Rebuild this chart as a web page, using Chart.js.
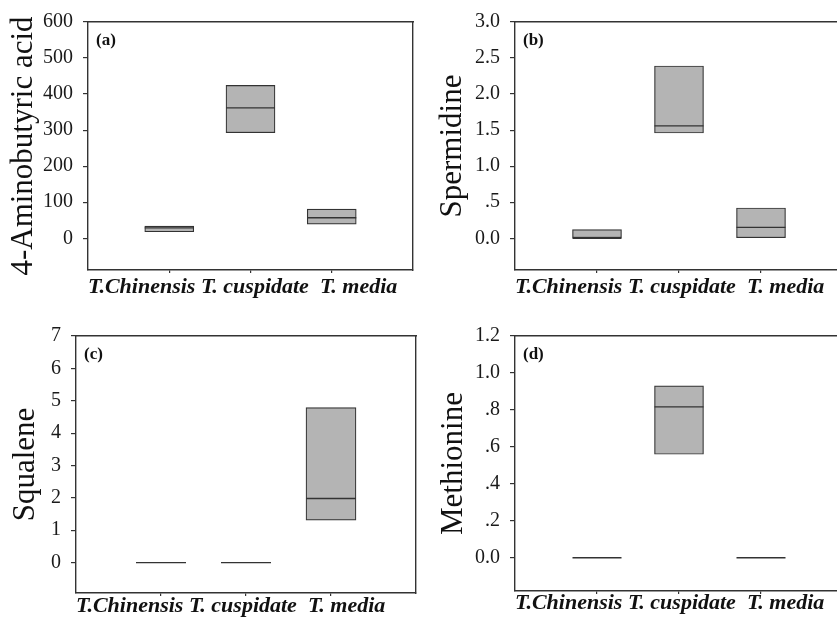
<!DOCTYPE html>
<html><head><meta charset="utf-8">
<script src="https://cdn.jsdelivr.net/npm/chart.js@4.4.1/dist/chart.umd.min.js"></script>
<style>
html,body{margin:0;padding:0;background:#fff;overflow:hidden;width:837px;height:619px;position:relative;}
canvas{position:absolute;}
</style></head><body>
<canvas id="ca"></canvas><canvas id="cb"></canvas><canvas id="cc"></canvas><canvas id="cd"></canvas>
<script>
// ---- data ----
const categories = ['T.Chinensis', 'T. cuspidate', 'T. media'];

const aQ1 = [18, 293, 39];
const aMedian = [29, 362, 57];
const aQ3 = [34, 424, 81];

const bQ1 = [0, 1.46, 0];
const bMedian = [0, 1.56, 0.15];
const bQ3 = [0.12, 2.39, 0.42];

const cQ1 = [0, 0, 1.31];
const cMedian = [0, 0, 1.98];
const cQ3 = [0, 0, 4.79];

const dQ1 = [0, 0.56, 0];
const dMedian = [0, 0.816, 0];
const dQ3 = [0, 0.93, 0];

const aTicks = [0, 100, 200, 300, 400, 500, 600];
const aTickLabels = ['0', '100', '200', '300', '400', '500', '600'];
const bTicks = [0, 0.5, 1.0, 1.5, 2.0, 2.5, 3.0];
const bTickLabels = ['0.0', '.5', '1.0', '1.5', '2.0', '2.5', '3.0'];
const cTicks = [0, 1, 2, 3, 4, 5, 6, 7];
const cTickLabels = ['0', '1', '2', '3', '4', '5', '6', '7'];
const dTicks = [0, 0.2, 0.4, 0.6, 0.8, 1.0, 1.2];
const dTickLabels = ['0.0', '.2', '.4', '.6', '.8', '1.0', '1.2'];

const yTitles = ['4-Aminobutyric acid', 'Spermidine', 'Squalene', 'Methionine'];
const panelLabels = ['(a)', '(b)', '(c)', '(d)'];

// ---- drawing ----
const FONT = '"Liberation Serif", "Times New Roman", serif';
const LINE = '#333333';
const FILL = '#b4b4b4';
const categoryLine = categories[0] + ' ' + categories[1] + '  ' + categories[2];

const panelLabelPlugin = {
  id: 'panelLabel',
  afterDraw(chart, args, opts) {
    const {ctx, chartArea} = chart;
    ctx.save();
    ctx.font = 'bold 17px ' + FONT;
    ctx.fillStyle = '#111';
    ctx.textAlign = 'left';
    ctx.textBaseline = 'middle';
    ctx.fillText(opts.text, chartArea.left + 8, chartArea.top + 19);
    ctx.restore();
  }
};

function makePanel(id, p) {
  const cv = document.getElementById(id);
  cv.width = p.w; cv.height = p.h;
  cv.style.left = p.left + 'px'; cv.style.top = p.top + 'px';
  cv.style.width = p.w + 'px'; cv.style.height = p.h + 'px';
  const boxes = p.q1.map((q, i) => ({x: i + 1, y: p.q3[i] === q ? null : [q, p.q3[i]]}));
  const meds = p.med.map((m, i) => ({x: i + 1, y: m}));
  new Chart(cv, {
    type: 'bar',
    data: {
      datasets: [
        {type: 'scatter', data: meds, order: 0, pointStyle: 'line', pointRadius: p.barW / 2,
         pointHoverRadius: p.barW / 2, pointBorderColor: LINE, borderColor: LINE,
         pointBorderWidth: 1.3, borderWidth: 1.3, pointBackgroundColor: LINE},
        {type: 'bar', data: boxes, order: 1, backgroundColor: FILL, borderColor: LINE,
         borderWidth: 1.2, borderSkipped: false, barThickness: p.barW}
      ]
    },
    options: {
      responsive: false, animation: false, devicePixelRatio: 1,
      layout: {padding: p.pad, autoPadding: false},
      plugins: {legend: {display: false}, tooltip: {enabled: false}, panelLabel: {text: p.label}},
      scales: {
        x: {
          type: 'linear', axis: 'x', position: 'bottom', min: 0, max: 4, offset: false,
          afterBuildTicks: s => { s.ticks = categories.map((c, i) => ({value: i + 1})); },
          afterFit: s => { s.height = p.xH; },
          ticks: {display: false},
          grid: {drawOnChartArea: false, drawTicks: true, tickLength: 3, color: LINE, lineWidth: 1.2, offset: false},
          border: {display: true, color: LINE, width: 1.4},
          title: {display: true, text: categoryLine, align: 'start', color: '#111',
                  font: {family: FONT, size: 22, weight: 'bold', style: 'italic', lineHeight: 1},
                  padding: {top: 0, bottom: p.xTitlePad}}
        },
        y: {
          type: 'linear', axis: 'y', position: 'left', min: p.yMin, max: p.yMax,
          afterBuildTicks: s => { s.ticks = p.ticks.map(v => ({value: v})); },
          afterFit: s => { s.width = p.yW; },
          ticks: {color: '#1a1a1a', padding: 10, font: {family: FONT, size: 20},
                  callback: (v, i) => p.tickLabels[i]},
          grid: {drawOnChartArea: false, drawTicks: true, tickLength: 5, color: LINE, lineWidth: 1.2},
          border: {display: true, color: LINE, width: 1.4},
          title: {display: true, text: p.yTitle, color: '#111',
                  font: {family: FONT, size: 31, lineHeight: 1},
                  padding: {top: p.yTitlePad, bottom: 0}}
        },
        xTop: {
          type: 'linear', axis: 'x', position: 'top', min: 0, max: 4,
          afterFit: s => { s.height = 0; },
          ticks: {display: false},
          grid: {drawOnChartArea: false, drawTicks: false},
          border: {display: true, color: LINE, width: 1.4}
        },
        yRight: {
          type: 'linear', axis: 'y', position: 'right', min: p.yMin, max: p.yMax,
          afterFit: s => { s.width = 0; },
          ticks: {display: false},
          grid: {drawOnChartArea: false, drawTicks: false},
          border: {display: true, color: LINE, width: 1.4}
        }
      }
    },
    plugins: [panelLabelPlugin]
  });
}

makePanel('ca', {left: 0, top: 0, w: 420, h: 310, pad: {top: 16, right: 7, bottom: 0, left: 0},
  yW: 88, xH: 40, yMin: -88, yMax: 600, barW: 49, yTitlePad: 8.5, xTitlePad: 12,
  q1: aQ1, med: aMedian, q3: aQ3, ticks: aTicks, tickLabels: aTickLabels, yTitle: yTitles[0], label: panelLabels[0]});
makePanel('cb', {left: 420, top: 0, w: 430, h: 310, pad: {top: 16, right: 7, bottom: 0, left: 0},
  yW: 95, xH: 40, yMin: -0.44, yMax: 3.0, barW: 49, yTitlePad: 17, xTitlePad: 12,
  q1: bQ1, med: bMedian, q3: bQ3, ticks: bTicks, tickLabels: bTickLabels, yTitle: yTitles[1], label: panelLabels[1]});
makePanel('cc', {left: 0, top: 310, w: 420, h: 309, pad: {top: 26, right: 4, bottom: 0, left: 0},
  yW: 76, xH: 26, yMin: -0.94, yMax: 7, barW: 50, yTitlePad: 10.5, xTitlePad: 2,
  q1: cQ1, med: cMedian, q3: cQ3, ticks: cTicks, tickLabels: cTickLabels, yTitle: yTitles[2], label: panelLabels[2]});
makePanel('cd', {left: 420, top: 310, w: 430, h: 309, pad: {top: 26, right: 7, bottom: 0, left: 0},
  yW: 95, xH: 28, yMin: -0.18, yMax: 1.2, barW: 49, yTitlePad: 18.5, xTitlePad: 4.5,
  q1: dQ1, med: dMedian, q3: dQ3, ticks: dTicks, tickLabels: dTickLabels, yTitle: yTitles[3], label: panelLabels[3]});
</script>
</body></html>
